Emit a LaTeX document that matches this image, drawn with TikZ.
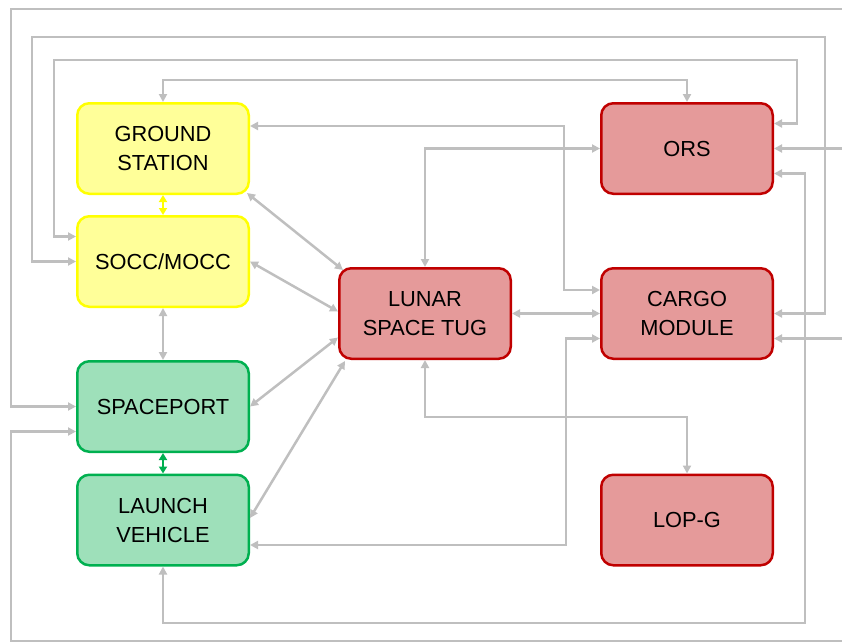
\documentclass[tikz,border=0pt]{standalone}
\usepackage{fontspec}
\setmainfont{Liberation Sans}
\usetikzlibrary{arrows.meta}
\definecolor{yelB}{HTML}{FFFF00}
\definecolor{yelF}{HTML}{FFFF99}
\definecolor{grnB}{HTML}{00B050}
\definecolor{grnF}{HTML}{9EE0BA}
\definecolor{redB}{HTML}{C00000}
\definecolor{redF}{HTML}{E59A9A}
\definecolor{lineG}{HTML}{BFBFBF}
\begin{document}
\begin{tikzpicture}[x=1pt,y=-1pt,
  box/.style={rounded corners=12pt, line width=2.5pt, minimum width=171.5pt, minimum height=90.5pt,
    align=center, font=\fontsize{21.8}{29}\selectfont, inner sep=0pt},
  ybox/.style={box, draw=yelB, fill=yelF},
  gbox/.style={box, draw=grnB, fill=grnF},
  rbox/.style={box, draw=redB, fill=redF},
  tip/.tip={Triangle[length=8pt,width=8pt]},
  conn/.style={draw=lineG, line width=2.5pt, tip-tip},
  oneway/.style={draw=lineG, line width=2.5pt, -tip},
  short/.style={line width=2.5pt, {Triangle[length=7pt,width=8pt]}-{Triangle[length=7pt,width=8pt]}},
]
\useasboundingbox (0,0) rectangle (842,642);

% nodes
\node[ybox] (gs) at (163,148.5) {GROUND\\STATION};
\node[ybox] (soc) at (163,261.5) {SOCC/MOCC};
\node[gbox] (sp) at (163,406.5) {SPACEPORT};
\node[gbox] (lv) at (163,520) {LAUNCH\\VEHICLE};
\node[rbox] (tug) at (425,313.5) {LUNAR\\SPACE TUG};
\node[rbox] (ors) at (687,148.5) {ORS};
\node[rbox] (cargo) at (687,313.5) {CARGO\\MODULE};
\node[rbox] (lop) at (687,520) {LOP-G};

% free ends at the picture's edge
\coordinate (eTop) at (842,9);
\coordinate (eBot) at (842,641);
\coordinate (eOrs) at (842,148.5);
\coordinate (eCargo) at (842,338.5);

% outer lines from the right edge
\draw[oneway] (eTop) -- (11,9) |- (sp.west);
\draw[oneway] (eBot) -- (11,641) |- ([yshift=-25pt]sp.west);
\draw[oneway] (eOrs) -- (ors.east);
\draw[oneway] (eCargo) -- ([yshift=-25pt]cargo.east);

% long loops
\draw[conn] (cargo.east) -- (825,313.5) -- (825,37) -- (32,37) |- (soc.west);
\draw[conn] ([yshift=25pt]ors.east) -- (797,123.5) -- (797,60) -- (54,60) |- ([yshift=25pt]soc.west);
\draw[conn] (gs.north) -- (163,80) -- (687,80) -- (ors.north);
\draw[conn] ([yshift=22.5pt]gs.east) -- (564,126) |- ([yshift=23.5pt]cargo.west);
\draw[conn] (ors.west) -| (tug.north);
\draw[conn] ([yshift=-25pt]ors.east) -- (805,173.5) -- (805,623) -| (lv.south);
\draw[conn] (tug.east) -- (cargo.west);
\draw[conn] ([yshift=-25pt]cargo.west) -- (566,338.5) |- ([yshift=-25pt]lv.east);
\draw[conn] (tug.south) -- (425,417) -| (lop.north);

% diagonals
\draw[conn] ([xshift=-3pt,yshift=2pt]gs.south east) -- ([xshift=5pt,yshift=-3pt]tug.north west);
\draw[conn] (soc.east) -- ([yshift=2pt]tug.west);
\draw[conn] (sp.east) -- ([yshift=-24pt]tug.west);
\draw[conn] ([yshift=2pt]lv.east) -- ([xshift=7pt,yshift=-1pt]tug.south west);

% vertical links in the left column
\draw[short, draw=yelB, fill=yelB] (gs.south) -- (soc.north);
\draw[conn] (soc.south) -- (sp.north);
\draw[short, draw=grnB, fill=grnB] (sp.south) -- (lv.north);
\end{tikzpicture}
\end{document}
